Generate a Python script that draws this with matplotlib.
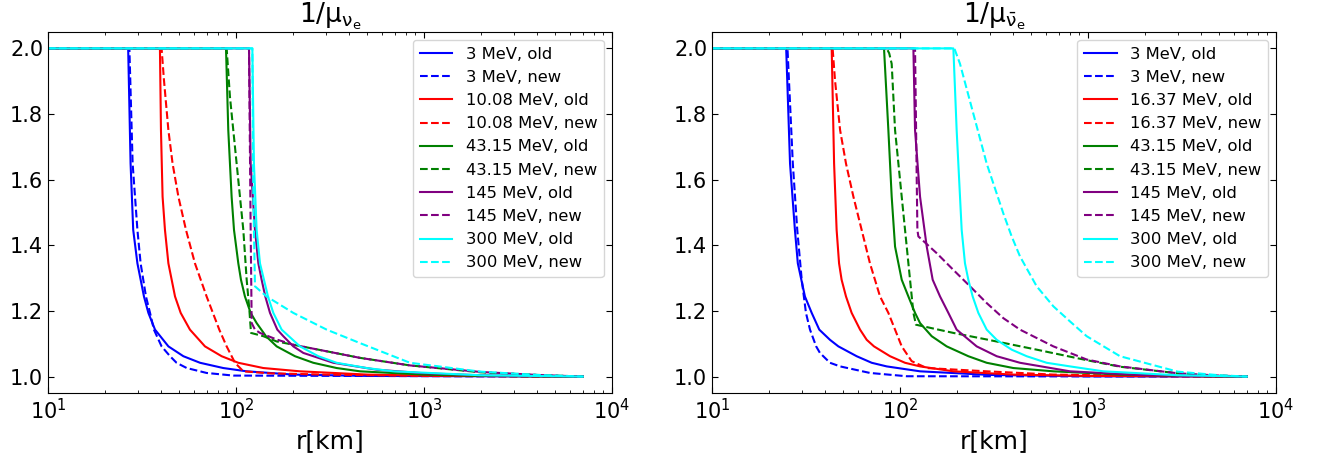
import matplotlib
matplotlib.use("Agg")
import matplotlib.pyplot as plt

plt.rcParams['mathtext.default'] = 'regular'

# ---------------- electron neutrinos ----------------
nue_energies = ['3', '10.08', '43.15', '145', '300']

nue_3_old_r = [10, 26.7, 27.5, 28.4, 29.9, 32.4, 34.2, 37.1, 43.7, 52.5, 64.4, 85.6, 114, 201.8, 500, 7000]
nue_3_old_y = [2.0, 2.0, 1.649, 1.447, 1.345, 1.244, 1.194, 1.143, 1.092, 1.062, 1.042, 1.026, 1.016, 1.006, 1.002, 1.0]
nue_3_new_r = [10, 27.1, 28.2, 29.9, 31.1, 33.2, 34.9, 36.6, 40.2, 44.6, 48.3, 54.7, 69.8, 96.8, 7000]
nue_3_new_y = [2.0, 2.0, 1.649, 1.447, 1.345, 1.244, 1.194, 1.143, 1.092, 1.062, 1.042, 1.026, 1.011, 1.003, 1.0]

nue_10_old_r = [10, 39.4, 39.9, 40.7, 41.9, 43.7, 47.4, 50.8, 56.9, 68.4, 83.9, 102.9, 139.8, 219.0, 500, 1000, 7000]
nue_10_old_y = [2.0, 2.0, 1.751, 1.548, 1.447, 1.345, 1.244, 1.194, 1.143, 1.092, 1.062, 1.042, 1.026, 1.016, 1.006, 1.003, 1.0]
nue_10_new_r = [10, 40.2, 41.4, 43.7, 46.0, 49.4, 54.2, 60.5, 69.8, 81.5, 89.2, 98.8, 109.4, 150, 300, 1000, 7000]
nue_10_new_y = [2.0, 2.0, 1.903, 1.751, 1.649, 1.548, 1.447, 1.345, 1.244, 1.143, 1.092, 1.042, 1.016, 1.010, 1.006, 1.002, 1.0]

nue_43_old_r = [10, 88.5, 91.0, 94.8, 97.6, 102.9, 106.3, 111.6, 119.7, 128.8, 144.4, 164.6, 206.0, 257.8, 343.2,
                456.6, 1000, 2000, 7000]
nue_43_old_y = [2.0, 2.0, 1.751, 1.548, 1.447, 1.345, 1.295, 1.244, 1.194, 1.163, 1.123, 1.092, 1.062, 1.042, 1.026,
                1.016, 1.006, 1.002, 1.0]
nue_43_new_r = [10, 89.2, 92.9, 100.8, 109.4, 114.0, 117.8, 120.2, 139.8, 164.6, 201.8, 303.7, 456.6, 842.5, 2000,
                4000, 7000]
nue_43_new_y = [2.0, 2.0, 1.852, 1.649, 1.447, 1.295, 1.204, 1.133, 1.123, 1.107, 1.097, 1.077, 1.057, 1.034, 1.013,
                1.005, 1.0]

nue_145_old_r = [10, 117.3, 119.7, 126.2, 131.5, 136.9, 143.2, 151.7, 165.9, 178.6, 201.8, 228.2, 329.5, 560.2, 1000,
                 2000, 7000]
nue_145_old_y = [2.0, 2.0, 1.649, 1.447, 1.345, 1.295, 1.244, 1.194, 1.143, 1.123, 1.092, 1.072, 1.042, 1.021, 1.010,
                 1.004, 1.0]
nue_145_new_r = [10, 117.3, 119.7, 121.2, 126.2, 134.2, 164.6, 201.8, 303.7, 456.6, 842.5, 2000, 4000, 7000]
nue_145_new_y = [2.0, 2.0, 1.447, 1.163, 1.143, 1.133, 1.113, 1.097, 1.077, 1.057, 1.034, 1.014, 1.005, 1.0]

nue_300_old_r = [10, 122.2, 124.6, 128.8, 134.2, 140.9, 148.0, 158.0, 175.0, 219.0, 274.2, 343.2, 495.5, 687.0, 2000,
                 7000]
nue_300_old_y = [2.0, 2.0, 1.649, 1.447, 1.345, 1.295, 1.244, 1.194, 1.143, 1.092, 1.062, 1.042, 1.026, 1.016, 1.004,
                 1.0]
nue_300_new_r = [10, 122.2, 123.7, 126.2, 145.6, 201.8, 303.7, 456.6, 842.5, 2000, 4000, 7000]
nue_300_new_y = [2.0, 2.0, 1.548, 1.275, 1.244, 1.194, 1.143, 1.102, 1.042, 1.015, 1.005, 1.0]

# ---------------- electron antineutrinos ----------------
nuebar_energies = ['3', '16.37', '43.15', '145', '300']

nuebar_3_old_r = [10, 24.8, 26.0, 27.6, 28.6, 31.2, 33.9, 37.2, 42.4, 47.0, 58.8, 70.7, 84.9, 127.8, 300, 1000, 7000]
nuebar_3_old_y = [2.0, 2.0, 1.649, 1.447, 1.345, 1.244, 1.194, 1.143, 1.112, 1.092, 1.062, 1.042, 1.031, 1.016, 1.005,
                  1.001, 1.0]
nuebar_3_new_r = [10, 25.2, 26.9, 28.4, 30.0, 31.6, 33.2, 35.8, 37.5, 42.4, 48.0, 69.2, 108.5, 7000]
nuebar_3_new_y = [2.0, 2.0, 1.649, 1.447, 1.295, 1.194, 1.143, 1.092, 1.072, 1.042, 1.031, 1.011, 1.001, 1.0]

nuebar_16_old_r = [10, 43.3, 44.6, 46.0, 47.4, 48.9, 51.6, 55.3, 61.3, 66.5, 72.7, 88.5, 106.3, 127.8, 192.2, 400,
                   1000, 7000]
nuebar_16_old_y = [2.0, 2.0, 1.649, 1.447, 1.345, 1.295, 1.244, 1.194, 1.143, 1.112, 1.092, 1.062, 1.042, 1.031,
                   1.016, 1.006, 1.002, 1.0]
nuebar_16_new_r = [10, 43.8, 45.1, 48.0, 51.6, 56.5, 62.5, 69.2, 78.3, 86.7, 94.1, 102.1, 115.3, 138.7, 289.1, 654.2,
                   2000, 7000]
nuebar_16_new_y = [2.0, 2.0, 1.903, 1.751, 1.649, 1.548, 1.447, 1.345, 1.244, 1.194, 1.143, 1.092, 1.047, 1.026,
                   1.016, 1.006, 1.002, 1.0]

nuebar_43_old_r = [10, 82.2, 86.7, 90.3, 94.1, 102.1, 110.8, 120.2, 127.8, 147.4, 177.1, 230.9, 289.1, 400.6, 654.2,
                   1500, 3000, 7000]
nuebar_43_old_y = [2.0, 2.0, 1.751, 1.548, 1.396, 1.295, 1.244, 1.194, 1.163, 1.123, 1.092, 1.062, 1.042, 1.026,
                   1.016, 1.006, 1.002, 1.0]
nuebar_43_new_r = [10, 84.9, 87.6, 90.3, 94.1, 102.1, 110.8, 117.8, 121.6, 192.2, 289.1, 533.3, 983.8, 1480, 3000,
                   5000, 7000]
nuebar_43_new_y = [2.0, 2.0, 1.985, 1.953, 1.751, 1.548, 1.345, 1.194, 1.158, 1.133, 1.113, 1.082, 1.050, 1.030,
                   1.010, 1.003, 1.0]

nuebar_145_old_r = [10, 117.8, 120.2, 127.8, 138.7, 149.2, 163.3, 180.8, 200.1, 255.7, 326.8, 434.8, 802.2, 2000, 7000]
nuebar_145_old_y = [2.0, 2.0, 1.751, 1.548, 1.396, 1.295, 1.244, 1.194, 1.143, 1.092, 1.062, 1.042, 1.016, 1.004, 1.0]
nuebar_145_new_r = [10, 120.2, 123.7, 125.2, 156.7, 192.2, 235.7, 289.1, 354.5, 434.8, 654.2, 983.8, 1480, 3000,
                    5000, 7000]
nuebar_145_new_y = [2.0, 2.0, 1.447, 1.427, 1.376, 1.325, 1.275, 1.224, 1.178, 1.143, 1.092, 1.052, 1.031, 1.010,
                    1.003, 1.0]

nuebar_300_old_r = [10, 192.2, 200.1, 212.8, 221.6, 230.9, 243.5, 261.0, 289.1, 326.8, 392.6, 471.9, 602.6, 802.2,
                    1206, 3000, 7000]
nuebar_300_old_y = [2.0, 2.0, 1.751, 1.447, 1.345, 1.295, 1.244, 1.194, 1.143, 1.112, 1.082, 1.062, 1.042, 1.031,
                    1.016, 1.004, 1.0]
nuebar_300_new_r = [10, 194.5, 208.5, 226.2, 245.5, 266.4, 289.1, 320.2, 354.5, 392.6, 434.8, 533.3, 654.2, 802.2,
                    983.8, 1480, 3000, 5000, 7000]
nuebar_300_new_y = [2.0, 2.0, 1.953, 1.877, 1.801, 1.725, 1.649, 1.573, 1.497, 1.427, 1.366, 1.275, 1.214, 1.168,
                    1.123, 1.062, 1.015, 1.004, 1.0]

colors = ['blue', 'red', 'green', 'purple', 'cyan']

nue_old = [(nue_3_old_r, nue_3_old_y), (nue_10_old_r, nue_10_old_y), (nue_43_old_r, nue_43_old_y),
           (nue_145_old_r, nue_145_old_y), (nue_300_old_r, nue_300_old_y)]
nue_new = [(nue_3_new_r, nue_3_new_y), (nue_10_new_r, nue_10_new_y), (nue_43_new_r, nue_43_new_y),
           (nue_145_new_r, nue_145_new_y), (nue_300_new_r, nue_300_new_y)]
nuebar_old = [(nuebar_3_old_r, nuebar_3_old_y), (nuebar_16_old_r, nuebar_16_old_y),
              (nuebar_43_old_r, nuebar_43_old_y), (nuebar_145_old_r, nuebar_145_old_y),
              (nuebar_300_old_r, nuebar_300_old_y)]
nuebar_new = [(nuebar_3_new_r, nuebar_3_new_y), (nuebar_16_new_r, nuebar_16_new_y),
              (nuebar_43_new_r, nuebar_43_new_y), (nuebar_145_new_r, nuebar_145_new_y),
              (nuebar_300_new_r, nuebar_300_new_y)]


def draw_panel(ax, energies, old, new, title):
    for e, c, (ro, yo), (rn, yn) in zip(energies, colors, old, new):
        ax.plot(ro, yo, '-', color=c, lw=1.5, label=e + ' MeV, old')
        ax.plot(rn, yn, '--', color=c, lw=1.5, label=e + ' MeV, new')
    ax.set_xscale('log')
    ax.set_xlim(10, 1e4)
    ax.set_ylim(0.95, 2.05)
    ax.set_yticks([1.0, 1.2, 1.4, 1.6, 1.8, 2.0])
    ax.set_yticklabels(['1.0', '1.2', '1.4', '1.6', '1.8', '2.0'])
    ax.tick_params(which='both', direction='in', top=True, right=True, labelsize=15)
    ax.tick_params(which='major', length=4)
    ax.tick_params(which='minor', length=2.5)
    ax.set_xlabel('r[km]', fontsize=18)
    ax.set_title(title, fontsize=19)
    ax.legend(loc='upper right', fontsize=11.8, labelspacing=0.5)


fig = plt.figure(figsize=(13.22, 4.62), dpi=100)
ax1 = fig.add_axes([0.0363, 0.1494, 0.4266, 0.7814])
ax2 = fig.add_axes([0.5386, 0.1494, 0.4266, 0.7814])

draw_panel(ax1, nue_energies, nue_old, nue_new, r'$1/\mu_{\nu_e}$')
draw_panel(ax2, nuebar_energies, nuebar_old, nuebar_new, r'$1/\mu_{\bar{\nu}_e}$')

fig.savefig('out.png', dpi=100)
